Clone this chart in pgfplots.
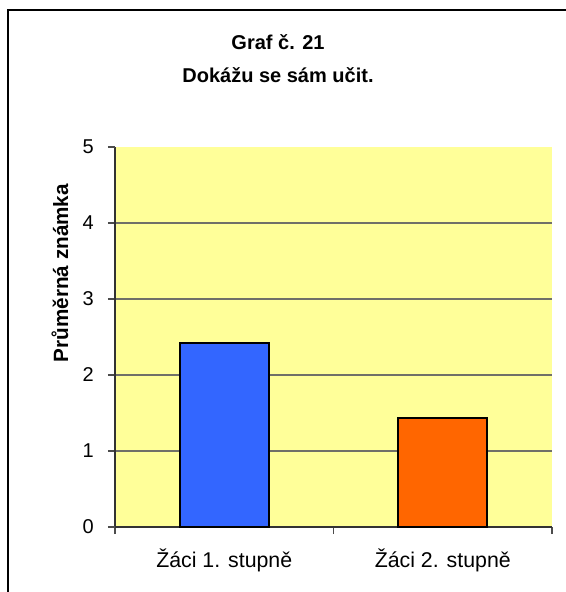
\documentclass[border=0pt]{standalone}
\usepackage{pgfplots}
\pgfplotsset{compat=1.18}
\usepackage{fontspec}
\setmainfont{Liberation Sans}
\definecolor{plotbg}{HTML}{FFFF99}
\definecolor{barblue}{HTML}{3366FF}
\definecolor{barorange}{HTML}{FF6600}
\definecolor{gridc}{HTML}{707068}
\begin{document}
\begin{tikzpicture}[x=0.75pt,y=-0.75pt]
\useasboundingbox (0,0) rectangle (566,592);
\draw[line width=0.8pt] (8,10) rectangle (620,640);
\begin{axis}[
  at={(86.25pt,-395.25pt)}, anchor=south west,
  scale only axis, width=327.75pt, height=285pt,
  xmin=-0.5, xmax=1.5, ymin=0, ymax=5,
  axis lines=left, axis line style={-, black!80, line width=0.8pt},
  axis background/.style={fill=plotbg},
  tick align=outside,
  tick style={black!70, line width=0.8pt},
  ytick={1,2,3,4},
  yticklabels={1,2,3,4},
  extra y ticks={0,5},
  extra y tick labels={0,5},
  extra y tick style={grid=none},
  ymajorgrids,
  grid style={gridc, line width=0.8pt},
  major tick length=5.25pt,
  xtick={-0.5,0.5,1.5},
  xticklabels={},
  extra x ticks={0,1},
  extra x tick labels={Žáci 1. stupně, Žáci 2. stupně},
  extra x tick style={major tick length=0pt, grid=none, xticklabel style={yshift=-13pt, font=\fontsize{16}{18}\selectfont}},
  ticklabel style={font=\fontsize{15}{17}\selectfont},
  yticklabel style={inner sep=0pt, xshift=-10.5pt},
]
\addplot[ybar, bar shift=0pt, bar width=0.407, fill=barblue, draw=black, line width=1.5pt] coordinates {(0,2.42)};
\addplot[ybar, bar shift=0pt, bar width=0.407, fill=barorange, draw=black, line width=1.5pt] coordinates {(1,1.43)};
\end{axis}
\node[anchor=base, font=\bfseries\fontsize{15}{18}\selectfont] at (278,50) {Graf č. 21};
\node[anchor=base, font=\bfseries\fontsize{15}{18}\selectfont] at (278,83) {Dokážu se sám učit.};
\node[rotate=90, anchor=base, font=\bfseries\fontsize{15.5}{18}\selectfont] at (68,273) {Průměrná známka};
\end{tikzpicture}
\end{document}
